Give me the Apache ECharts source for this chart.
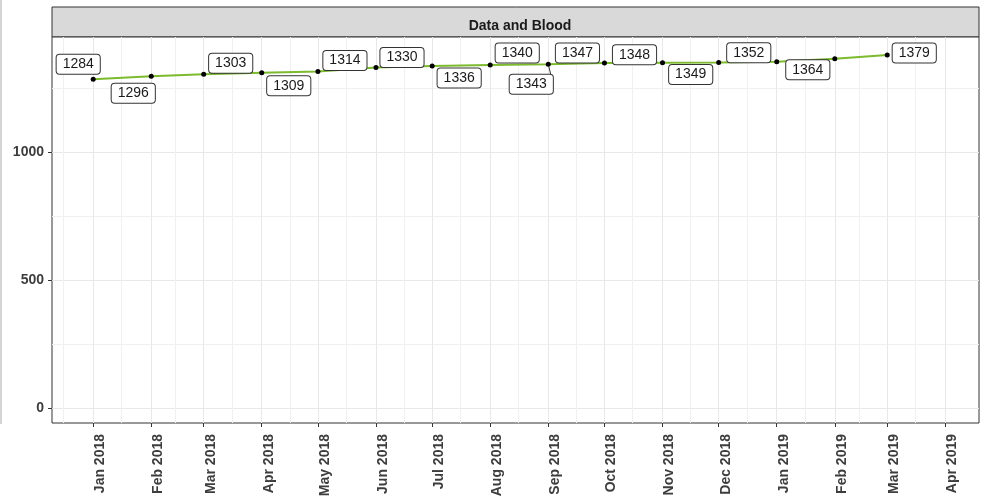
<!DOCTYPE html>
<html>
<head>
<meta charset="utf-8">
<script src="https://cdn.jsdelivr.net/npm/echarts@6/dist/echarts.min.js"></script>
<style>
  html, body { margin: 0; padding: 0; background: #fff; }
  #main { width: 981px; height: 504px; }
</style>
</head>
<body>
<div id="main"></div>
<script>
// data, one point per month
const months = ['2018-01-01', '2018-02-01', '2018-03-01', '2018-04-01', '2018-05-01',
  '2018-06-01', '2018-07-01', '2018-08-01', '2018-09-01', '2018-10-01', '2018-11-01',
  '2018-12-01', '2019-01-01', '2019-02-01', '2019-03-01'];
const values = [1284, 1296, 1303, 1309, 1314, 1330, 1336, 1340, 1343, 1347, 1348, 1349, 1352, 1364, 1379];

// axis ticks
const tickDates = ['2018-01-01', '2018-02-01', '2018-03-01', '2018-04-01', '2018-05-01',
  '2018-06-01', '2018-07-01', '2018-08-01', '2018-09-01', '2018-10-01', '2018-11-01',
  '2018-12-01', '2019-01-01', '2019-02-01', '2019-03-01', '2019-04-01'];
const tickLabels = ['Jan 2018', 'Feb 2018', 'Mar 2018', 'Apr 2018', 'May 2018', 'Jun 2018',
  'Jul 2018', 'Aug 2018', 'Sep 2018', 'Oct 2018', 'Nov 2018', 'Dec 2018', 'Jan 2019',
  'Feb 2019', 'Mar 2019', 'Apr 2019'];
const minorDates = ['2017-12-16', '2018-01-16', '2018-02-14', '2018-03-16', '2018-04-16',
  '2018-05-16', '2018-06-16', '2018-07-16', '2018-08-16', '2018-09-16', '2018-10-16',
  '2018-11-16', '2018-12-16', '2019-01-16', '2019-02-14', '2019-03-16'];
const yTicks = [0, 500, 1000];
const yMinor = [250, 750, 1250];

// where each label box sits relative to its point (repel-like)
const labelOffsets = [[-15, -15], [-18, 17], [27, -11], [27, 13], [27, -11], [26, -10], [27, 12],
  [27, -12], [-17, 20], [-27, -10], [-28, -8], [-28, 12], [-28, -9], [-27, 11], [27, -2]];

const FONT = '"Liberation Sans", Arial, sans-serif';
const tickTs = tickDates.map(d => Date.parse(d));
const minorTs = minorDates.map(d => Date.parse(d));
const xMin = Date.parse('2017-12-10');
const xMax = Date.parse('2019-04-19');
const yMin = -59, yMax = 1449;

const seriesData = months.map((m, i) => {
  const item = {
    value: [Date.parse(m), values[i]],
    label: {offset: labelOffsets[i]}
  };
  if (i === 8) {
    item.labelLine = {show: true, lineStyle: {color: '#333', width: 1}};
  }
  return item;
});

const chart = echarts.init(document.getElementById('main'));
chart.setOption({
  animation: false,
  backgroundColor: '#fff',
  title: {
    text: 'Data and Blood',
    left: 515,
    top: 14,
    textAlign: 'center',
    textStyle: {fontFamily: FONT, fontSize: 14, fontWeight: 'bold', color: '#1a1a1a'}
  },
  graphic: [
    {
      type: 'rect',
      shape: {x: 52, y: 7, width: 927, height: 30},
      style: {fill: '#d9d9d9', stroke: '#333', lineWidth: 1},
      z: -1
    },
    {
      type: 'line',
      shape: {x1: 1, y1: 0, x2: 1, y2: 424},
      style: {stroke: '#aaa', lineWidth: 1}
    }
  ],
  grid: {
    left: 52, right: 2, top: 37, bottom: 81,
    show: true, borderColor: '#333', borderWidth: 1, backgroundColor: '#fff',
    containLabel: false,
    outerBoundsMode: 'none'
  },
  xAxis: [
    {
      type: 'value', min: xMin, max: xMax,
      axisLine: {show: false, onZero: false},
      axisTick: {show: true, customValues: tickTs, length: 4, lineStyle: {color: '#333'}},
      axisLabel: {
        customValues: tickTs,
        rotate: 90,
        margin: 11,
        verticalAlign: 'top',
        fontFamily: FONT, fontSize: 14, fontWeight: 'bold', color: '#3d3d3d',
        formatter: v => tickLabels[tickTs.indexOf(v)] || ''
      },
      splitLine: {show: true, lineStyle: {color: '#e8e8e8', width: 1}}
    },
    {
      type: 'value', min: xMin, max: xMax, position: 'bottom',
      axisLine: {show: false, onZero: false},
      axisTick: {show: false, customValues: minorTs},
      axisLabel: {show: false},
      splitLine: {show: true, lineStyle: {color: '#f0f0f0', width: 1}}
    }
  ],
  yAxis: [
    {
      type: 'value', min: yMin, max: yMax,
      axisLine: {show: false, onZero: false},
      axisTick: {show: true, customValues: yTicks, length: 4, lineStyle: {color: '#333'}},
      axisLabel: {
        customValues: yTicks,
        margin: 8,
        fontFamily: FONT, fontSize: 14, fontWeight: 'bold', color: '#3d3d3d',
        formatter: v => String(v)
      },
      splitLine: {show: true, lineStyle: {color: '#e8e8e8', width: 1}}
    },
    {
      type: 'value', min: yMin, max: yMax, position: 'left',
      axisLine: {show: false, onZero: false},
      axisTick: {show: false, customValues: yMinor},
      axisLabel: {show: false},
      splitLine: {show: true, lineStyle: {color: '#f0f0f0', width: 1}}
    }
  ],
  series: [
    {
      name: 'Data and Blood',
      type: 'line',
      xAxisIndex: 0,
      yAxisIndex: 0,
      data: seriesData,
      symbol: 'circle',
      symbolSize: 5,
      itemStyle: {color: '#000'},
      lineStyle: {color: '#7cba2e', width: 2},
      label: {
        show: true,
        position: 'inside',
        formatter: p => p.value[1],
        fontFamily: FONT,
        fontSize: 14,
        color: '#1a1a1a',
        backgroundColor: '#fff',
        borderColor: '#333',
        borderWidth: 1,
        borderRadius: 3,
        padding: [3, 6, 2, 6]
      },
      z: 3
    }
  ]
});
</script>
</body>
</html>
